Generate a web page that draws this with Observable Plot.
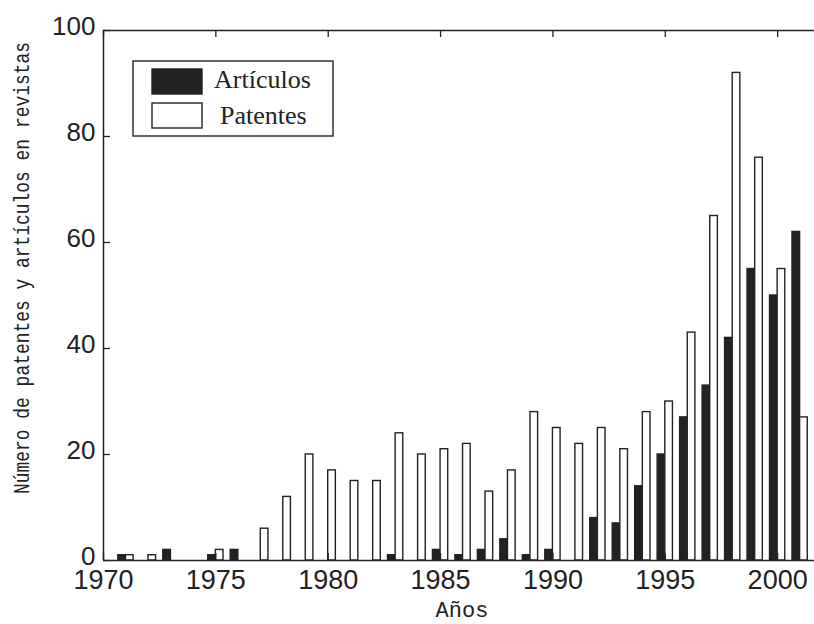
<!DOCTYPE html>
<html><head><meta charset="utf-8">
<script src="https://cdn.jsdelivr.net/npm/d3@7"></script>
<script src="https://cdn.jsdelivr.net/npm/@observablehq/plot@0.6"></script>
<style>
body{margin:0;background:#fff;}
#chart{position:relative;width:814px;height:624px;overflow:hidden;}
</style>
</head><body><div id="chart"></div>
<script>
const years = [1971,1972,1973,1974,1975,1976,1977,1978,1979,1980,1981,1982,1983,1984,1985,1986,1987,1988,1989,1990,1991,1992,1993,1994,1995,1996,1997,1998,1999,2000,2001];
const articulos = [1,0,2,0,1,2,0,0,0,0,0,0,1,0,2,1,2,4,1,2,0,8,7,14,20,27,33,42,55,50,62];
const patentes  = [1,1,0,0,2,0,6,12,20,17,15,15,24,20,21,22,13,17,28,25,22,25,21,28,30,43,65,92,76,55,27];
const seriesNames = ["Artículos","Patentes"];
const xTicks = [1970,1975,1980,1985,1990,1995,2000];
const yTicks = [0,20,40,60,80,100];
const xLabel = "Años";
const yLabel = "Número de patentes y artículos en revistas";

const ink = "#222";
const barW = 0.34;
const rows = years.flatMap((yr,i)=>[
  {year: yr, serie: seriesNames[0], value: articulos[i], x1: yr - barW, x2: yr},
  {year: yr, serie: seriesNames[1], value: patentes[i],  x1: yr, x2: yr + barW}
]).filter(d => d.value > 0);

const W = 814, H = 624, mL = 103, mR = 0, mT = 30, mB = 64;
const fw = W - mL - mR, fh = H - mT - mB, tk = 7;

const plot = Plot.plot({
  width: W, height: H,
  marginLeft: mL, marginRight: mR, marginTop: mT, marginBottom: mB,
  style: {background: "#fff", color: ink, fontFamily: "'Liberation Sans', Arial, sans-serif"},
  x: {domain: [1970, 2001.64]},
  y: {domain: [0, 100]},
  color: {domain: seriesNames, range: [ink, "#fff"]},
  marks: [
    Plot.rect(rows, {x1: "x1", x2: "x2", y1: 0, y2: "value", fill: "serie", stroke: ink, strokeWidth: 1.4}),
    Plot.ruleY([yTicks[0], yTicks[yTicks.length-1]], {y: d => d, stroke: ink, strokeWidth: 1.5}),
    Plot.ruleX([xTicks[0]], {x: d => d, stroke: ink, strokeWidth: 1.5}),
    Plot.ruleX(xTicks, {x: d => d, insetTop: fh - tk, stroke: ink, strokeWidth: 1.3}),
    Plot.ruleX(xTicks, {x: d => d, insetBottom: fh - tk, stroke: ink, strokeWidth: 1.3}),
    Plot.ruleY(yTicks, {y: d => d, insetRight: fw - tk, stroke: ink, strokeWidth: 1.3}),
    Plot.axisX({ticks: xTicks, tickFormat: d => String(d), tickSize: 0, tickPadding: 9, fontSize: 27, label: null}),
    Plot.axisY({ticks: yTicks, tickSize: 0, tickPadding: 8, dy: -4, fontSize: 26, label: null})
  ]
});
document.getElementById("chart").appendChild(plot);

const svg = d3.select(plot);
// axis titles
svg.append("text")
  .attr("transform", "translate(23,268) rotate(-90)")
  .attr("text-anchor", "middle").attr("dominant-baseline", "central")
  .attr("font-family", "'Liberation Mono', 'Courier New', monospace")
  .attr("font-size", 22).attr("fill", ink)
  .attr("textLength", 452).attr("lengthAdjust", "spacingAndGlyphs")
  .text(yLabel);
svg.append("text")
  .attr("x", 462).attr("y", 617)
  .attr("text-anchor", "middle")
  .attr("font-family", "'Liberation Mono', 'Courier New', monospace")
  .attr("font-size", 22).attr("fill", ink)
  .text(xLabel);

// legend
const lg = svg.append("g").attr("text-anchor", "start");
lg.append("rect").attr("x", 133).attr("y", 61).attr("width", 200).attr("height", 75)
  .attr("fill", "#fff").attr("stroke", ink).attr("stroke-width", 1.4);
const swFill = [ink, "#fff"];
const swY = [69, 103];
const txX = [214, 220];
const txY = [88, 124];
seriesNames.forEach((s, i) => {
  lg.append("rect").attr("x", 152).attr("y", swY[i]).attr("width", 50).attr("height", 25)
    .attr("fill", swFill[i]).attr("stroke", ink).attr("stroke-width", 1.4);
  lg.append("text").attr("x", txX[i]).attr("y", txY[i])
    .attr("text-anchor", "start")
    .attr("font-family", "'Liberation Serif', 'Times New Roman', serif")
    .attr("font-size", 26).attr("fill", ink).text(s);
});
</script>
</body></html>
